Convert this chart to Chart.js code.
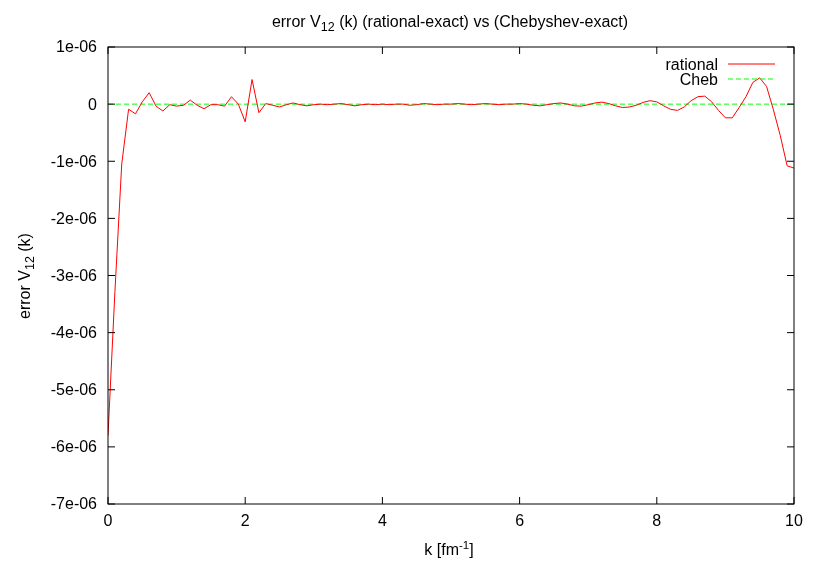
<!DOCTYPE html>
<html>
<head>
<meta charset="utf-8">
<script src="https://cdn.jsdelivr.net/npm/chart.js@4.4.1/dist/chart.umd.min.js"></script>
<style>
  html, body { margin: 0; padding: 0; background: #fff; }
  #wrap { width: 817px; height: 572px; }
</style>
</head>
<body>
<div id="wrap"><canvas id="chart"></canvas></div>
<script>
// k in fm^-1, errors in units of 1e-6
const kValues = [
  0.0, 0.1, 0.2, 0.3, 0.4, 0.5, 0.6, 0.7, 0.8, 0.9,
  1.0, 1.1, 1.2, 1.3, 1.4, 1.5, 1.6, 1.7, 1.8, 1.9,
  2.0, 2.1, 2.2, 2.3, 2.4, 2.5, 2.6, 2.7, 2.8, 2.9,
  3.0, 3.1, 3.2, 3.3, 3.4, 3.5, 3.6, 3.7, 3.8, 3.9,
  4.0, 4.1, 4.2, 4.3, 4.4, 4.5, 4.6, 4.7, 4.8, 4.9,
  5.0, 5.1, 5.2, 5.3, 5.4, 5.5, 5.6, 5.7, 5.8, 5.9,
  6.0, 6.1, 6.2, 6.3, 6.4, 6.5, 6.6, 6.7, 6.8, 6.9,
  7.0, 7.1, 7.2, 7.3, 7.4, 7.5, 7.6, 7.7, 7.8, 7.9,
  8.0, 8.1, 8.2, 8.3, 8.4, 8.5, 8.6, 8.7, 8.8, 8.9,
  9.0, 9.1, 9.2, 9.3, 9.4, 9.5, 9.6, 9.7, 9.8, 9.9,
  10.0
];
const rationalErr = [
  -5.8, -3.3, -1.05, -0.09, -0.17, 0.04, 0.20, -0.035, -0.12, -0.01,
  -0.035, -0.02, 0.07, -0.02, -0.08, -0.01, -0.01, -0.035, 0.13, 0.0,
  -0.31, 0.43, -0.15, 0.01, -0.02, -0.05, -0.01, 0.02, -0.01, -0.03,
  -0.01, 0.0, -0.01, 0.0, 0.01, -0.01, -0.03, -0.01, 0.0, -0.01,
  0.0, -0.01, 0.0, 0.0, -0.02, -0.01, 0.01, 0.0, -0.01, 0.0,
  0.0, 0.01, 0.0, -0.01, 0.0, 0.01, 0.0, -0.01, 0.0, 0.0,
  0.01, 0.0, -0.02, -0.03, -0.01, 0.01, 0.02, 0.0, -0.03, -0.035,
  -0.01, 0.02, 0.035, 0.01, -0.03, -0.06, -0.05, -0.02, 0.03, 0.06,
  0.04, -0.03, -0.09, -0.11, -0.05, 0.06, 0.13, 0.14, 0.04, -0.11,
  -0.24, -0.24, -0.06, 0.13, 0.38, 0.46, 0.31, -0.10, -0.55, -1.08,
  -1.12
];
const chebK = [0, 10];
const chebErr = [0, 0];

const xTicks = [0, 2, 4, 6, 8, 10];
const yTickLabels = ['-7e-06', '-6e-06', '-5e-06', '-4e-06', '-3e-06', '-2e-06', '-1e-06', '0', '1e-06'];

const FONT = '"Liberation Sans", Arial, sans-serif';
const FS = 16;

function toPoints(xs, ys) {
  return xs.map((x, i) => ({ x, y: ys[i] }));
}

// draw text made of parts with sub/superscripts
function drawRich(ctx, parts, x, y, align) {
  let total = 0;
  parts.forEach(p => {
    ctx.font = `${p.size}px ${FONT}`;
    p.w = ctx.measureText(p.t).width;
    total += p.w;
  });
  let cx = align === 'center' ? x - total / 2 : x;
  ctx.textAlign = 'left';
  ctx.textBaseline = 'alphabetic';
  parts.forEach(p => {
    ctx.font = `${p.size}px ${FONT}`;
    ctx.fillText(p.t, cx, y + (p.dy || 0));
    cx += p.w;
  });
}

const gnuplotFrame = {
  id: 'gnuplotFrame',
  afterDatasetsDraw(chart) {
    const { ctx, chartArea: a, scales } = chart;
    ctx.save();
    ctx.strokeStyle = '#000';
    ctx.lineWidth = 1;
    ctx.strokeRect(a.left, a.top, a.right - a.left, a.bottom - a.top);

    const tl = 7;
    ctx.beginPath();
    xTicks.forEach(v => {
      const px = scales.x.getPixelForValue(v);
      ctx.moveTo(px, a.bottom); ctx.lineTo(px, a.bottom - tl);
      ctx.moveTo(px, a.top); ctx.lineTo(px, a.top + tl);
    });
    scales.y.ticks.forEach(t => {
      const py = scales.y.getPixelForValue(t.value);
      ctx.moveTo(a.left, py); ctx.lineTo(a.left + tl, py);
      ctx.moveTo(a.right, py); ctx.lineTo(a.right - tl, py);
    });
    ctx.stroke();

    // legend, gnuplot style: text right-aligned, sample to its right
    ctx.font = `${FS}px ${FONT}`;
    ctx.textAlign = 'right';
    ctx.textBaseline = 'alphabetic';
    chart.data.datasets.forEach((ds, i) => {
      const rowY = 64 + i * 15;
      ctx.fillStyle = '#000';
      ctx.fillText(ds.label, 718, rowY + 5.5);
      ctx.strokeStyle = ds.borderColor;
      ctx.lineWidth = 1;
      ctx.setLineDash(ds.borderDash || []);
      ctx.beginPath();
      ctx.moveTo(728, rowY);
      ctx.lineTo(775, rowY);
      ctx.stroke();
      ctx.setLineDash([]);
    });

    // titles
    ctx.fillStyle = '#000';
    drawRich(ctx, [
      { t: 'error V', size: FS },
      { t: '12', size: 12.5, dy: 4 },
      { t: ' (k) (rational-exact) vs (Chebyshev-exact)', size: FS }
    ], 450, 27, 'center');

    drawRich(ctx, [
      { t: 'k [fm', size: FS },
      { t: '-1', size: 11.5, dy: -6 },
      { t: ']', size: FS }
    ], 449, 555, 'center');

    ctx.translate(30, 276);
    ctx.rotate(-Math.PI / 2);
    drawRich(ctx, [
      { t: 'error V', size: FS },
      { t: '12', size: 12.5, dy: 4 },
      { t: ' (k)', size: FS }
    ], 0, 0, 'center');
    ctx.restore();
  }
};

new Chart(document.getElementById('chart'), {
  type: 'line',
  data: {
    datasets: [
      {
        label: 'rational',
        data: toPoints(kValues, rationalErr),
        borderColor: '#ff0000',
        borderWidth: 1,
        pointRadius: 0,
        tension: 0,
      },
      {
        label: 'Cheb',
        data: toPoints(chebK, chebErr),
        borderColor: '#00ff00',
        borderWidth: 1,
        borderDash: [5, 3],
        pointRadius: 0,
        tension: 0,
      },
    ],
  },
  options: {
    responsive: true,
    maintainAspectRatio: false,
    animation: false,
    events: [],
    layout: { padding: { top: 47, right: 23, left: 0, bottom: 0 } },
    plugins: {
      legend: { display: false },
      tooltip: { enabled: false },
    },
    scales: {
      x: {
        type: 'linear',
        min: 0,
        max: 10,
        afterBuildTicks: (scale) => { scale.ticks = xTicks.map(v => ({ value: v })); },
        afterFit: (scale) => { scale.height = 68; },
        grid: { display: false },
        border: { display: false },
        ticks: {
          color: '#000',
          padding: 0,
          maxRotation: 0,
          font: { size: FS, family: FONT },
        },
      },
      y: {
        min: -7,
        max: 1,
        afterFit: (scale) => { scale.width = 108; },
        grid: { display: false },
        border: { display: false },
        ticks: {
          color: '#000',
          padding: 3,
          stepSize: 1,
          labelOffset: 1,
          font: { size: FS, family: FONT },
          callback: (v, i) => yTickLabels[i],
        },
      },
    },
  },
  plugins: [gnuplotFrame],
});
</script>
</body>
</html>
